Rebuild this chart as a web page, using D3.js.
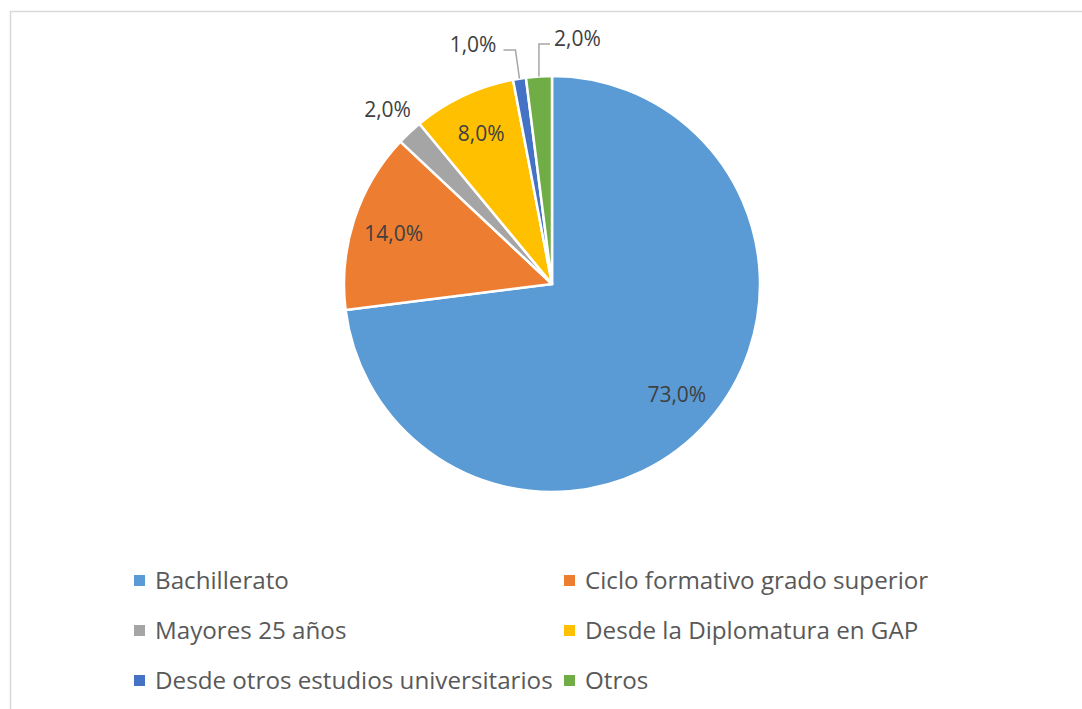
<!DOCTYPE html>
<html>
<head>
<meta charset="utf-8">
<script src="https://cdn.jsdelivr.net/npm/d3@7"></script>
<style>
  body { margin: 0; background: #fff; }
  text { font-family: "Open Sans", "Noto Sans", sans-serif; }
</style>
</head>
<body>
<script>
let categories = ["Bachillerato", "Ciclo formativo grado superior", "Mayores 25 años",
                  "Desde la Diplomatura en GAP", "Desde otros estudios universitarios", "Otros"]
let values = [73, 14, 2, 8, 1, 2]
let labels = ["73,0%", "14,0%", "2,0%", "8,0%", "1,0%", "2,0%"]
let colors = ["#5B9BD5", "#ED7D31", "#A5A5A5", "#FFC000", "#4472C4", "#70AD47"]

let width = 1082
let height = 709
let cx = 552
let cy = 284
let radius = 208

let svg = d3.select("body").append("svg")
    .attr("width", width)
    .attr("height", height)

// chart frame, runs off the right and bottom edges
svg.append("rect")
    .attr("x", 10.5).attr("y", 11.5)
    .attr("width", 1200).attr("height", 800)
    .attr("fill", "none")
    .attr("stroke", "#d9d9d9")
    .attr("stroke-width", 1.5)

let pie = d3.pie().sort(null).value(d => d)
let arcs = pie(values)
let arc = d3.arc().innerRadius(0).outerRadius(radius)

let g = svg.append("g").attr("transform", `translate(${cx},${cy})`)

g.selectAll("path.slice")
    .data(arcs)
    .enter()
    .append("path")
    .attr("class", "slice")
    .attr("d", arc)
    .attr("fill", (d, i) => colors[i])
    .attr("stroke", "#fff")
    .attr("stroke-width", 2.5)
    .attr("stroke-linejoin", "round")

function midAngle(d){ return (d.startAngle + d.endAngle) / 2 }
function polar(a, r){ return [Math.sin(a) * r, -Math.cos(a) * r] }

// label placement: inside, outside free, or outside with leader line
let labelMode = ["in", "in", "out", "in", "leaderLeft", "leaderRight"]
let labelSize = 21

arcs.forEach((d, i) => {
    let a = midAngle(d)
    let mode = labelMode[i]
    if(mode == "in" || mode == "out"){
        let p = polar(a, radius * (mode == "in" ? 0.8 : 1.155))
        g.append("text")
            .attr("x", p[0]).attr("y", p[1])
            .attr("text-anchor", "middle")
            .attr("dominant-baseline", "central")
            .attr("font-size", labelSize)
            .attr("fill", "#404040")
            .text(labels[i])
    } else {
        let start = polar(a, radius)
        let left = mode == "leaderLeft"
        let elbowY = left ? -radius - 26 : -radius - 32
        let elbowX = left ? start[0] - 4 : start[0]
        let endX = left ? elbowX - 12 : elbowX + 11
        g.append("path")
            .attr("d", `M${start[0]},${start[1]}L${elbowX},${elbowY}L${endX},${elbowY}`)
            .attr("fill", "none")
            .attr("stroke", "#a6a6a6")
            .attr("stroke-width", 1.5)
        g.append("text")
            .attr("x", left ? endX - 7 : endX + 4)
            .attr("y", elbowY - 6)
            .attr("text-anchor", left ? "end" : "start")
            .attr("dominant-baseline", "central")
            .attr("font-size", labelSize)
            .attr("fill", "#404040")
            .text(labels[i])
    }
})

// legend, two columns
let legendX = d3.scaleOrdinal().domain([0, 1]).range([134, 564])
let legendY = d3.scalePoint().domain([0, 1, 2]).range([580, 680])

let items = svg.selectAll("g.legend")
    .data(categories)
    .enter()
    .append("g")
    .attr("class", "legend")
    .attr("transform", (d, i) => `translate(${legendX(i % 2)},${legendY(Math.floor(i / 2))})`)

items.append("rect")
    .attr("x", 0).attr("y", -5)
    .attr("width", 11).attr("height", 11)
    .attr("fill", (d, i) => colors[i])

items.append("text")
    .attr("x", 21).attr("y", -1)
    .attr("dominant-baseline", "central")
    .attr("font-size", 24.2)
    .attr("fill", "#595959")
    .text(d => d)
</script>
</body>
</html>
